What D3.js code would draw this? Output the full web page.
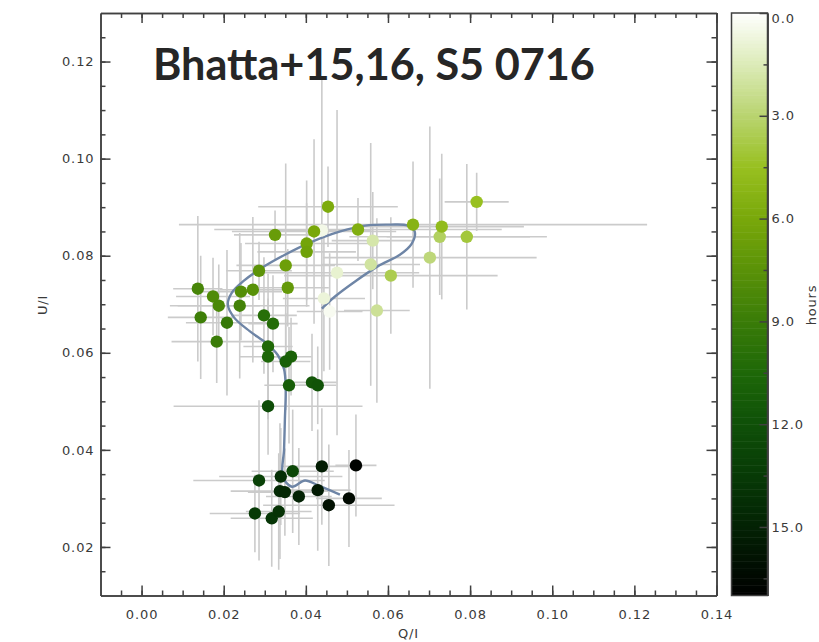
<!DOCTYPE html>
<head>
  <meta charset="utf-8">
  <title>Bhatta+15,16, S5 0716</title>
  <script src="https://cdn.jsdelivr.net/npm/d3@7"></script>
</head>
<style>
  body {
    margin: 0;
    background: #fff;
  }

  .tick text {
    font-family: "DejaVu Sans", sans-serif;
    font-size: 13px;
    fill: #3a3a3a;
    letter-spacing: 0.9px;
  }

  .domain, .tick line {
    stroke: #404040;
    stroke-width: 1.5px;
  }

  .label {
    font-family: "DejaVu Sans", sans-serif;
    font-size: 13px;
    fill: #3a3a3a;
    letter-spacing: 0.8px;
  }

  .title {
    font-family: Lato, "Open Sans", sans-serif;
    font-weight: 700;
    fill: #262626;
  }
</style>

<body>
  <script type="text/javascript">
    var qi = [0.0439, 0.0458, 0.0444, 0.0476, 0.0563, 0.0558, 0.0573, 0.0702, 0.0726, 0.0607,
      0.0792, 0.0816, 0.0731, 0.0661, 0.0527, 0.0454, 0.0420, 0.0402, 0.0402, 0.0325,
      0.0351, 0.0356, 0.0286, 0.0271, 0.0242, 0.0239, 0.0137, 0.0174, 0.0188, 0.0144,
      0.0208, 0.0183, 0.0298, 0.0320, 0.0308, 0.0308, 0.0364, 0.0351, 0.0359, 0.0415,
      0.0429, 0.0308, 0.0368, 0.0286, 0.0276, 0.0317, 0.0334, 0.0339, 0.0337, 0.0349,
      0.0383, 0.0429, 0.0439, 0.0456, 0.0505, 0.0522];
    var ui = [0.0852, 0.0685, 0.0712, 0.0765, 0.0831, 0.0782, 0.0687, 0.0796, 0.0839, 0.0759,
      0.0839, 0.0911, 0.0860, 0.0864, 0.0854, 0.0901, 0.0850, 0.0825, 0.0808, 0.0843,
      0.0780, 0.0734, 0.0769, 0.0730, 0.0726, 0.0697, 0.0732, 0.0716, 0.0697, 0.0673,
      0.0662, 0.0623, 0.0677, 0.0660, 0.0613, 0.0592, 0.0592, 0.0582, 0.0533, 0.0539,
      0.0533, 0.0490, 0.0356, 0.0337, 0.0269, 0.0259, 0.0273, 0.0345, 0.0315, 0.0313,
      0.0304, 0.0317, 0.0366, 0.0286, 0.0300, 0.0368];
    var qErr = [0.012, 0.008, 0.010, 0.020, 0.010, 0.012, 0.008, 0.026, 0.022, 0.026,
      0.0195, 0.0078, 0.020, 0.057, 0.035, 0.017, 0.020, 0.015, 0.012, 0.010,
      0.012, 0.010, 0.008, 0.008, 0.010, 0.017, 0.006, 0.009, 0.010, 0.008,
      0.010, 0.011, 0.008, 0.006, 0.006, 0.007, 0.005, 0.006, 0.006, 0.006,
      0.0045, 0.023, 0.010, 0.016, 0.011, 0.010, 0.008, 0.015, 0.012, 0.009,
      0.008, 0.008, 0.010, 0.016, 0.008, 0.005];
    var uErr = [0.031, 0.012, 0.015, 0.0335, 0.010, 0.025, 0.019, 0.027, 0.012, 0.012,
      0.015, 0.006, 0.015, 0.013, 0.0065, 0.0083, 0.019, 0.013, 0.010, 0.005,
      0.021, 0.008, 0.006, 0.015, 0.010, 0.015, 0.015, 0.008, 0.0085, 0.0127,
      0.015, 0.0085, 0.012, 0.010, 0.015, 0.012, 0.008, 0.010, 0.012, 0.010,
      0.008, 0.010, 0.0127, 0.0165, 0.008, 0.010, 0.012, 0.010, 0.014, 0.009,
      0.010, 0.0125, 0.012, 0.0125, 0.010, 0.0105];
    var hours = [0.5, 0.3, 0.8, 1.0, 1.8, 2.0, 2.2, 2.8, 3.3, 3.6,
      4.0, 4.5, 4.8, 5.3, 5.6, 5.8, 6.0, 6.3, 6.5, 6.8,
      6.6, 7.0, 7.4, 7.6, 7.8, 8.6, 8.4, 8.0, 8.2, 8.8,
      9.2, 9.0, 10.0, 10.2, 10.4, 10.6, 10.8, 11.0, 11.2, 11.6,
      11.8, 12.2, 12.6, 13.0, 13.5, 13.8, 14.0, 14.2, 14.5, 14.7,
      15.0, 15.5, 15.3, 16.0, 16.4, 16.8];

    // smoothed track
    var trackQ = [0.0439, 0.0471, 0.0520, 0.0575, 0.0629, 0.0658, 0.0665, 0.0648, 0.0605, 0.0544,
      0.0484, 0.0410, 0.0349, 0.0293, 0.0247, 0.0220, 0.0210, 0.0225, 0.0264, 0.0303,
      0.0332, 0.0347, 0.0351, 0.0349, 0.0347, 0.0344, 0.0366, 0.0398, 0.0430, 0.0483];
    var trackU = [0.0691, 0.0716, 0.0747, 0.0778, 0.0802, 0.0825, 0.0850, 0.0862, 0.0864, 0.0862,
      0.0850, 0.0827, 0.0802, 0.0775, 0.0747, 0.0724, 0.0700, 0.0673, 0.0644, 0.0620,
      0.0595, 0.0566, 0.0525, 0.0463, 0.0401, 0.0345, 0.0324, 0.0337, 0.0327, 0.0308];

    var xTicks = [0, 0.02, 0.04, 0.06, 0.08, 0.10, 0.12, 0.14];
    var yTicks = [0.02, 0.04, 0.06, 0.08, 0.10, 0.12];
    var cbTicks = [0, 3, 6, 9, 12, 15];
    var cbMinor = [1.5, 4.5, 7.5, 10.5, 13.5, 16.5];
    var cbStops = [0, 1.5, 3, 4.5, 6, 7.5, 9, 10.5, 12, 13.5, 15, 17];
    var cbColors = ["#ffffff", "#dcebb8", "#b9d470", "#98c020", "#79a80a", "#5a9208",
      "#3a7c08", "#1e6808", "#0f5008", "#073a06", "#032204", "#000000"];

    var svg = d3.select("body").append("svg")
      .attr("width", 819)
      .attr("height", 642);

    var xScale = d3.scaleLinear().domain([-0.01, 0.14]).range([100.5, 716.5]);
    var yScale = d3.scaleLinear().domain([0.01, 0.13]).range([595.5, 13]);
    var color = d3.scaleLinear().domain(cbStops).range(cbColors);

    var xMinor = d3.range(-0.005, 0.14, 0.005);
    var yMinor = d3.range(0.015, 0.13, 0.005);

    svg.append("clipPath").attr("id", "plotClip")
      .append("rect")
      .attr("x", 100.5).attr("y", 13)
      .attr("width", 616).attr("height", 582.5);

    var plot = svg.append("g").attr("clip-path", "url(#plotClip)");

    var idx = d3.range(qi.length);

    // error bars
    plot.selectAll(".errx")
      .data(idx)
      .enter()
      .append("line")
      .attr("x1", function(i) { return xScale(qi[i] - qErr[i]); })
      .attr("x2", function(i) { return xScale(qi[i] + qErr[i]); })
      .attr("y1", function(i) { return yScale(ui[i]); })
      .attr("y2", function(i) { return yScale(ui[i]); })
      .attr("stroke", "#cbcbcb")
      .attr("stroke-width", 1.6);

    plot.selectAll(".erry")
      .data(idx)
      .enter()
      .append("line")
      .attr("x1", function(i) { return xScale(qi[i]); })
      .attr("x2", function(i) { return xScale(qi[i]); })
      .attr("y1", function(i) { return yScale(ui[i] - uErr[i]); })
      .attr("y2", function(i) { return yScale(ui[i] + uErr[i]); })
      .attr("stroke", "#cbcbcb")
      .attr("stroke-width", 1.6);

    // track
    var line = d3.line()
      .x(function(i) { return xScale(trackQ[i]); })
      .y(function(i) { return yScale(trackU[i]); })
      .curve(d3.curveCatmullRom);

    plot.append("path")
      .attr("d", line(d3.range(trackQ.length)))
      .attr("fill", "none")
      .attr("stroke", "#6e85a6")
      .attr("stroke-width", 2.4);

    // points, dark ones on top
    var order = idx.slice().sort(function(a, b) { return hours[a] - hours[b]; });
    plot.selectAll("circle")
      .data(order)
      .enter()
      .append("circle")
      .attr("cx", function(i) { return xScale(qi[i]); })
      .attr("cy", function(i) { return yScale(ui[i]); })
      .attr("r", 6.2)
      .attr("fill", function(i) { return color(hours[i]); });

    // frame and ticks
    svg.append("g")
      .attr("transform", "translate(0,595.5)")
      .call(d3.axisBottom(xScale).tickValues(xMinor).tickSize(-5).tickSizeOuter(0).tickFormat(""));
    svg.append("g")
      .attr("transform", "translate(0,595.5)")
      .call(d3.axisBottom(xScale).tickValues(xTicks).tickSize(-10).tickSizeOuter(0)
        .tickPadding(14).tickFormat(d3.format(".2f")));

    svg.append("g")
      .attr("transform", "translate(0,13)")
      .call(d3.axisTop(xScale).tickValues(xMinor).tickSize(-5).tickSizeOuter(0).tickFormat(""));
    svg.append("g")
      .attr("transform", "translate(0,13)")
      .call(d3.axisTop(xScale).tickValues(xTicks).tickSize(-10).tickSizeOuter(0).tickFormat(""));

    svg.append("g")
      .attr("transform", "translate(100.5,0)")
      .call(d3.axisLeft(yScale).tickValues(yMinor).tickSize(-5).tickSizeOuter(0).tickFormat(""));
    svg.append("g")
      .attr("transform", "translate(100.5,0)")
      .call(d3.axisLeft(yScale).tickValues(yTicks).tickSize(-10).tickSizeOuter(0)
        .tickPadding(6).tickFormat(d3.format(".2f")));

    svg.append("g")
      .attr("transform", "translate(716.5,0)")
      .call(d3.axisRight(yScale).tickValues(yMinor).tickSize(-5).tickSizeOuter(0).tickFormat(""));
    svg.append("g")
      .attr("transform", "translate(716.5,0)")
      .call(d3.axisRight(yScale).tickValues(yTicks).tickSize(-10).tickSizeOuter(0).tickFormat(""));

    svg.append("text")
      .attr("class", "label")
      .attr("x", 408.5)
      .attr("y", 638)
      .attr("text-anchor", "middle")
      .text("Q/I");

    svg.append("text")
      .attr("class", "label")
      .attr("transform", "translate(47,305) rotate(-90)")
      .attr("text-anchor", "middle")
      .text("U/I");

    // colour bar
    var cbScale = d3.scaleLinear().domain([0, 17]).range([13, 595.5]);
    var cbSteps = d3.range(0, 17, 0.1);
    svg.selectAll(".cb")
      .data(cbSteps)
      .enter()
      .append("rect")
      .attr("x", 731.5)
      .attr("width", 36)
      .attr("y", function(d) { return cbScale(d); })
      .attr("height", function(d) { return cbScale(d + 0.1) - cbScale(d) + 0.5; })
      .attr("fill", function(d) { return color(d + 0.05); });

    svg.append("rect")
      .attr("x", 731.5).attr("y", 13)
      .attr("width", 36).attr("height", 582.5)
      .attr("fill", "none")
      .attr("stroke", "#404040")
      .attr("stroke-width", 1.5);

    svg.append("g")
      .attr("transform", "translate(767.5,0)")
      .call(d3.axisRight(cbScale).tickValues(cbMinor).tickSize(-4).tickSizeOuter(0).tickFormat(""));
    var cbAxis = svg.append("g")
      .attr("transform", "translate(767.5,0)")
      .call(d3.axisRight(cbScale).tickValues(cbTicks).tickSize(-8).tickSizeOuter(0)
        .tickPadding(4).tickFormat(d3.format(".1f")));
    cbAxis.selectAll(".tick text").filter(function(d) { return d === 0; }).attr("y", 5);

    svg.append("text")
      .attr("class", "label")
      .attr("transform", "translate(816,305) rotate(-90)")
      .attr("text-anchor", "middle")
      .text("hours");

    // title, fitted to the width it has in the picture
    var title = svg.append("text")
      .attr("class", "title")
      .attr("x", 153)
      .attr("y", 80)
      .style("font-size", "44px")
      .text("Bhatta+15,16, S5 0716");
    var tw = title.node().getComputedTextLength();
    title.style("font-size", (44 * 442 / tw) + "px");
  </script>
</body>
